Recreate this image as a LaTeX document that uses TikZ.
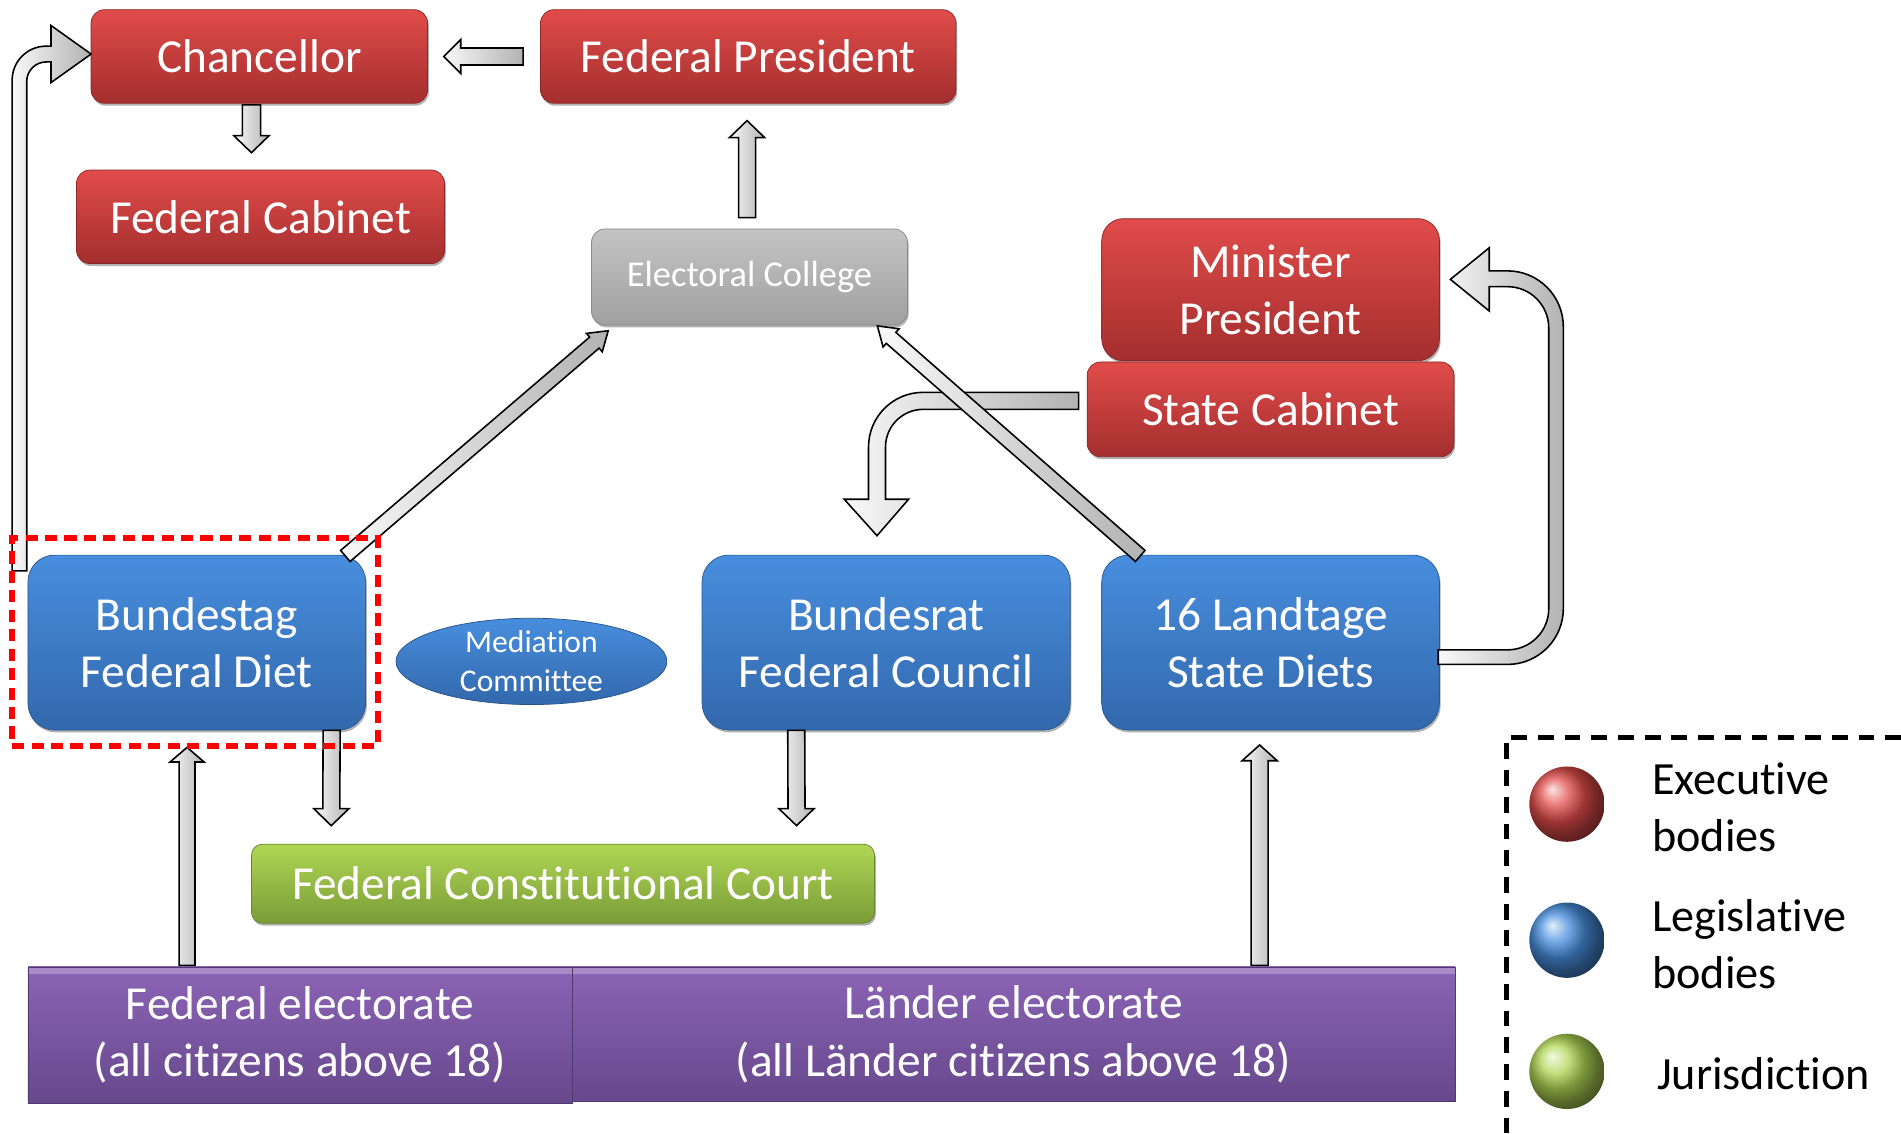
\documentclass[tikz,border=0pt]{standalone}
\usepackage{fontspec}
\setmainfont{Carlito}[Ligatures=NoCommon]
\usetikzlibrary{calc,shapes.geometric,shadows}

\definecolor{redT}{RGB}{224,76,74}
\definecolor{redB}{RGB}{164,46,46}
\definecolor{blueT}{RGB}{72,142,222}
\definecolor{blueB}{RGB}{50,104,172}
\definecolor{grayT}{RGB}{196,196,196}
\definecolor{grayB}{RGB}{160,160,160}
\definecolor{greenT}{RGB}{176,214,84}
\definecolor{greenB}{RGB}{122,156,56}
\definecolor{purpT}{RGB}{140,100,182}
\definecolor{purpB}{RGB}{102,72,140}
\definecolor{arrL}{RGB}{248,248,248}
\definecolor{arrR}{RGB}{178,178,178}

\tikzset{
  bx/.style={draw=#1B!85!black, line width=0.6pt, top color=#1T, bottom color=#1B,
    text=white, align=center, inner sep=0pt, font=\fontsize{39}{47}\selectfont,
    drop shadow={shadow xshift=1pt, shadow yshift=-2pt, opacity=0.3, fill=black}},
  elect/.style={draw=purpB!80!black, line width=0.6pt, top color=purpT, bottom color=purpB,
    text=white, align=center, inner sep=0pt, font=\fontsize{39}{47}\selectfont,
    path picture={\fill[white, opacity=0.25] (path picture bounding box.north west) rectangle ([yshift=-6pt]path picture bounding box.north east);}},
  barr/.style={draw=black, line width=1.3pt, left color=arrL, right color=arrR, line join=miter},
  legtxt/.style={text=black, align=left, anchor=west, inner sep=0pt, font=\fontsize{38}{47}\selectfont},
  sphere/.style={circle, minimum size=62pt, inner sep=0pt, ball color=#1},
}

\newcommand\blockarr[5]{%
  \path ($(#2)!#5!(#1)$) coordinate (tmpH);
  \draw[barr] ($(#1)!#3!90:(#2)$) -- ($(tmpH)!#3!-90:(#1)$) -- ($(tmpH)!#4!-90:(#1)$) -- (#2)
    -- ($(tmpH)!#4!90:(#1)$) -- ($(tmpH)!#3!90:(#1)$) -- ($(#1)!#3!-90:(#2)$) -- cycle;
}

\begin{document}
\begin{tikzpicture}[x=1pt,y=-1pt]
\useasboundingbox (0,0) rectangle (1565,933);

% boxes
\node[bx=red, rounded corners=11pt, minimum width=277pt, minimum height=77pt] (chan) at (213.5,46.5) {Chancellor};
\node[bx=red, rounded corners=11pt, minimum width=342pt, minimum height=77pt] (fp) at (616,46.5) {Federal President};
\node[bx=red, rounded corners=11pt, minimum width=303pt, minimum height=77pt] (fc) at (214.5,178.5) {Federal Cabinet};
\node[bx=gray, rounded corners=11pt, minimum width=260pt, minimum height=79pt, font=\fontsize{30}{36}\selectfont] (ec) at (617,228) {Electoral College};
\node[bx=red, rounded corners=18pt, minimum width=278pt, minimum height=117pt] (mp) at (1046,238.5) {Minister\\President};
\node[bx=red, rounded corners=11pt, minimum width=302pt, minimum height=78pt] (sc) at (1046,337) {State Cabinet};
\node[bx=blue, rounded corners=22pt, minimum width=278pt, minimum height=144pt] (bt) at (162,529) {Bundestag\\Federal Diet};
\node[bx=blue, rounded corners=22pt, minimum width=303pt, minimum height=144pt] (br) at (729.5,529) {Bundesrat\\Federal Council};
\node[bx=blue, rounded corners=22pt, minimum width=278pt, minimum height=144pt] (lt) at (1046,529) {16 Landtage\\State Diets};
\node[ellipse, draw=blueB!80!black, line width=0.6pt, top color=blueT, bottom color=blueB, text=white, align=center, inner sep=0pt,
  minimum width=223pt, minimum height=71pt, font=\fontsize{26}{32}\selectfont] (mc) at (437.5,544.5) {Mediation\\Committee};
\node[bx=green, rounded corners=9pt, minimum width=513pt, minimum height=65pt] (fcc) at (463.5,727.5) {Federal Constitutional Court};
\node[elect, minimum width=448pt, minimum height=112pt] (fe) at (247,852) {Federal electorate\\(all citizens above 18)};
\node[elect, minimum width=727pt, minimum height=111pt] (le) at (834.5,851.5) {Länder electorate\\(all Länder citizens above 18)};

% bent arrow: State Cabinet -> Bundesrat
\draw[barr] (888,323) -- (760,323) .. controls (735.1,323) and (715,343.1) .. (715,368) -- (715,411) -- (695,411) -- (722,441)
  -- (748,411) -- (729,411) -- (729,368) .. controls (729,350.9) and (742.9,337) .. (760,337) -- (888,337) -- cycle;

% bent arrow: Landtage -> Minister President
\draw[barr] (1184,535) -- (1241,535) .. controls (1259.8,535) and (1275,519.8) .. (1275,501) -- (1275,270)
  .. controls (1275,251.2) and (1259.8,236) .. (1241,236) -- (1226,236) -- (1226,256) -- (1194,230) -- (1226,204)
  -- (1226,223) -- (1241,223) .. controls (1266.4,223) and (1287,243.6) .. (1287,269) -- (1287,501)
  .. controls (1287,526.4) and (1266.4,547) .. (1241,547) -- (1184,547) -- cycle;

% bent arrow: Bundestag -> Chancellor
\draw[barr] (10,470) -- (10,66) .. controls (10,50.5) and (22.5,38) .. (38,38) -- (42,38) -- (42,21) -- (75,44.5)
  -- (42,68) -- (42,51) -- (38,51) .. controls (29.2,51) and (22,58.2) .. (22,67) -- (22,470) -- cycle;

% straight arrows
\coordinate (a1) at ($(fp.west)+(-14,0)$);
\coordinate (a2) at ($(chan.east)+(13,0)$);
\blockarr{a1}{a2}{7pt}{14pt}{14pt}

\coordinate (b1) at ($(chan.south)+(-6.5,1)$);
\coordinate (b2) at ($(fc.north)+(-7.5,-14)$);
\blockarr{b1}{b2}{7.5pt}{14.5pt}{14pt}

\coordinate (c1) at ($(ec.north)+(-2,-9)$);
\coordinate (c2) at ($(fp.south)+(-1,14)$);
\blockarr{c1}{c2}{7pt}{14.5pt}{14pt}

\coordinate (d1) at ($(bt.north east)+(-17,1)$);
\coordinate (d2) at ($(ec.south west)+(14,4.5)$);
\blockarr{d1}{d2}{6pt}{10pt}{15pt}

\coordinate (e1) at ($(lt.north west)+(32,1)$);
\coordinate (e2) at ($(ec.south east)+(-25,0.5)$);
\blockarr{e1}{e2}{6pt}{10pt}{15pt}

\coordinate (i1) at ($(bt.south)+(111,0)$);
\coordinate (i2) at ($(fcc.north west)+(66,-15)$);
\blockarr{i1}{i2}{7pt}{14.5pt}{14pt}

\coordinate (j1) at ($(br.south)+(-74,0)$);
\coordinate (j2) at ($(fcc.north east)+(-64.5,-15)$);
\blockarr{j1}{j2}{7pt}{14.5pt}{14pt}

\coordinate (k1) at ($(fe.north)+(-93,-1)$);
\coordinate (k2) at ($(bt.south)+(-8,14)$);
\blockarr{k1}{k2}{6.5pt}{14pt}{12pt}

\coordinate (l1) at ($(le.north)+(202.5,-1)$);
\coordinate (l2) at ($(lt.south)+(-9,12)$);
\blockarr{l1}{l2}{7pt}{14.5pt}{13pt}

% highlight of Bundestag
\node[draw=red, line width=4.5pt, dash pattern=on 10pt off 6pt, minimum width=301pt, minimum height=171pt, inner sep=0pt] (hl) at (160.5,528.5) {};

% legend
\draw[line width=4.2pt, dash pattern=on 13pt off 9pt] (1240,933) -- (1240,607) -- (1565,607);
\node[sphere=redT] (lgE) at (1290,662) {};
\node[sphere=blueT] (lgL) at (1290,774) {};
\node[sphere=greenT] (lgJ) at (1290,882) {};
\node[legtxt] (tE) at (1360,664.5) {Executive\\bodies};
\node[legtxt] (tL) at (1360,777) {Legislative\\bodies};
\node[legtxt] (tJ) at (1364,884) {Jurisdiction};
\end{tikzpicture}
\end{document}
